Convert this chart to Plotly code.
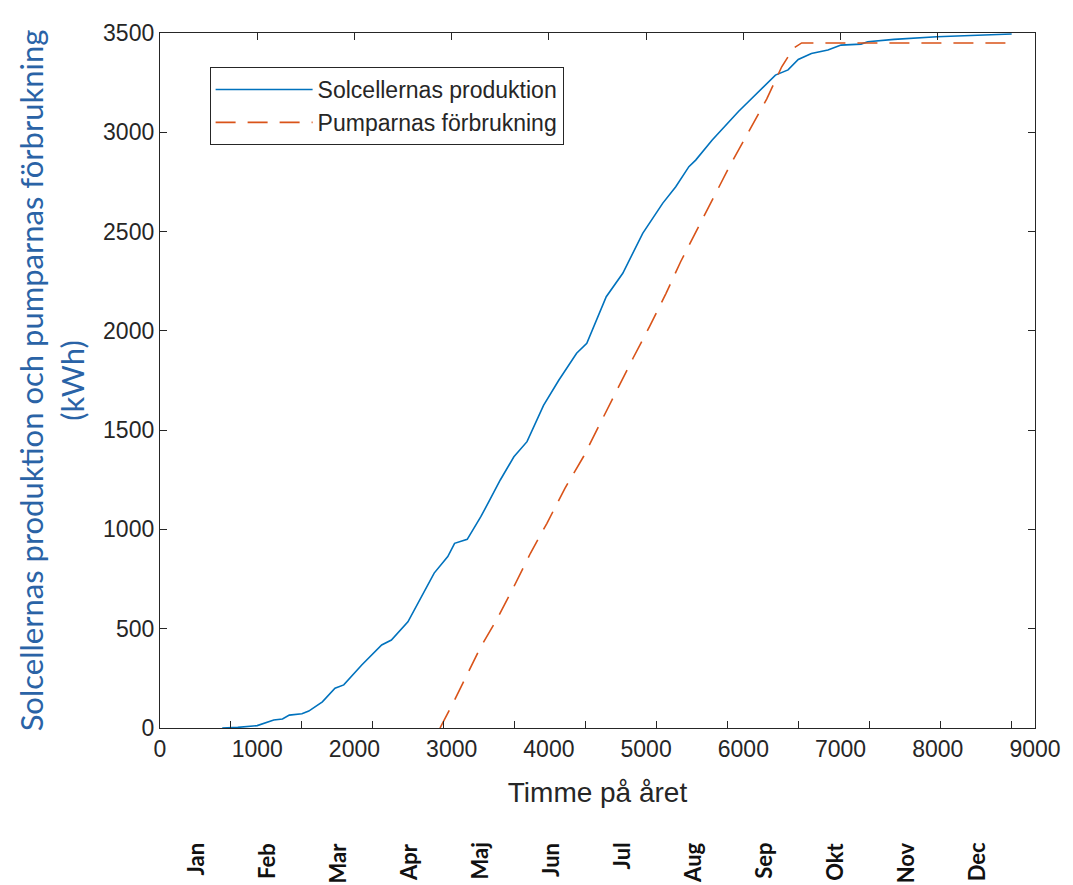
import plotly.graph_objects as go

# Hour of the year (x) and cumulative energy in kWh (y)
sol_hours = [640, 800, 1000, 1090, 1170, 1260, 1330, 1460, 1530, 1670, 1800, 1890,
             2075, 2280, 2380, 2550, 2690, 2820, 2960, 3030, 3160, 3300, 3400, 3500,
             3640, 3775, 3945, 4100, 4285, 4390, 4590, 4760, 4965, 5170, 5305, 5440,
             5510, 5680, 5950, 6255, 6330, 6460, 6565, 6700, 6870, 7005, 7210, 7280,
             7550, 7990, 8600, 8760]
sol_kwh = [0, 3, 12, 28, 40, 45, 65, 72, 85, 132, 200, 217,
           317, 418, 443, 535, 661, 780, 863, 930, 950, 1064, 1156, 1249,
           1366, 1442, 1625, 1750, 1887, 1937, 2172, 2290, 2491, 2642, 2726, 2827,
           2860, 2961, 3105, 3255, 3288, 3314, 3367, 3397, 3414, 3439, 3444, 3456,
           3468, 3481, 3490, 3495]

pump_hours = [2880, 3030, 3300, 3470, 3640, 3810, 3980, 4165, 4355, 4525, 4695, 4865,
              5035, 5205, 5355, 5525, 5695, 5865, 6055, 6240, 6395, 6515, 6600, 8760]
pump_kwh = [0, 141, 409, 552, 712, 880, 1031, 1207, 1366, 1534, 1694, 1862,
            2021, 2189, 2348, 2508, 2676, 2835, 3003, 3167, 3330, 3423, 3450, 3450]

hour_ticks = [0, 1000, 2000, 3000, 4000, 5000, 6000, 7000, 8000, 9000]
month_ends = [730, 1460, 2190, 2920, 3650, 4380, 5110, 5840, 6570, 7300, 8030, 8760]
month_mids = [365, 1095, 1825, 2555, 3285, 4015, 4745, 5475, 6205, 6935, 7665, 8395]
month_names = ["Jan", "Feb", "Mar", "Apr", "Maj", "Jun", "Jul", "Aug", "Sep", "Okt", "Nov", "Dec"]
kwh_ticks = [0, 500, 1000, 1500, 2000, 2500, 3000, 3500]

AX = "#262626"
FONT = "Liberation Sans, Arial, sans-serif"

fig = go.Figure()
fig.add_trace(go.Scatter(
    x=sol_hours, y=sol_kwh, mode="lines", name="Solcellernas produktion",
    line=dict(color="#0072BD", width=1.6), hoverinfo="skip"))
fig.add_trace(go.Scatter(
    x=pump_hours, y=pump_kwh, mode="lines", name="Pumparnas förbrukning",
    line=dict(color="#D95319", width=1.6, dash="20px,12px"), hoverinfo="skip"))

# helper traces so the extra tick axes are drawn
fig.add_trace(go.Scatter(x=[0, 9000], y=[0, 0], xaxis="x2", mode="lines",
                         line=dict(width=0), showlegend=False, hoverinfo="skip"))
fig.add_trace(go.Scatter(x=[0, 9000], y=[0, 0], xaxis="x3", mode="lines",
                         line=dict(width=0), showlegend=False, hoverinfo="skip"))

for m, name in zip(month_mids, month_names):
    fig.add_annotation(
        x=m, y=-0.162, xref="x", yref="paper", text=f"<b>{name}</b>",
        textangle=-90, showarrow=False, xanchor="center", yanchor="top",
        font=dict(family="Lato, Open Sans, sans-serif", size=22, color="#111111"))

fig.update_layout(
    width=1073, height=885,
    margin=dict(l=160, r=31, t=33, b=157),
    paper_bgcolor="white", plot_bgcolor="white",
    font=dict(family=FONT, color=AX),
    showlegend=True,
    legend=dict(
        x=0.0567, y=0.951, xanchor="left", yanchor="top",
        bgcolor="white", bordercolor=AX, borderwidth=1,
        font=dict(family=FONT, size=23, color=AX),
        itemwidth=97, tracegroupgap=0),
    xaxis=dict(
        range=[0, 9000], tickvals=hour_ticks, ticks="", showgrid=False, zeroline=False,
        showline=True, linecolor=AX, linewidth=1.3, mirror=True,
        tickfont=dict(size=23, color=AX),
        title=dict(text="Timme på året", font=dict(size=28, color=AX), standoff=21)),
    xaxis2=dict(
        range=[0, 9000], overlaying="x", side="top", anchor="y", tickvals=hour_ticks,
        ticks="inside", ticklen=7, tickcolor=AX, tickwidth=1.3,
        showticklabels=False, showgrid=False, zeroline=False, showline=False),
    xaxis3=dict(
        range=[0, 9000], overlaying="x", side="bottom", anchor="y", tickvals=month_ends,
        ticks="inside", ticklen=7, tickcolor=AX, tickwidth=1.3,
        showticklabels=False, showgrid=False, zeroline=False, showline=False),
    yaxis=dict(
        range=[0, 3500], tickvals=kwh_ticks, ticks="inside", ticklen=7, tickcolor=AX,
        tickwidth=1.3, showgrid=False, zeroline=False, showline=True, linecolor=AX,
        linewidth=1.3, mirror="ticks", tickfont=dict(size=23, color=AX),
        title=dict(text="Solcellernas produktion och pumparnas förbrukning<br>(kWh)",
                   font=dict(family="Lato, sans-serif", size=31, color="#2A63A6"),
                   standoff=9)),
)

fig.write_html("out.html")
